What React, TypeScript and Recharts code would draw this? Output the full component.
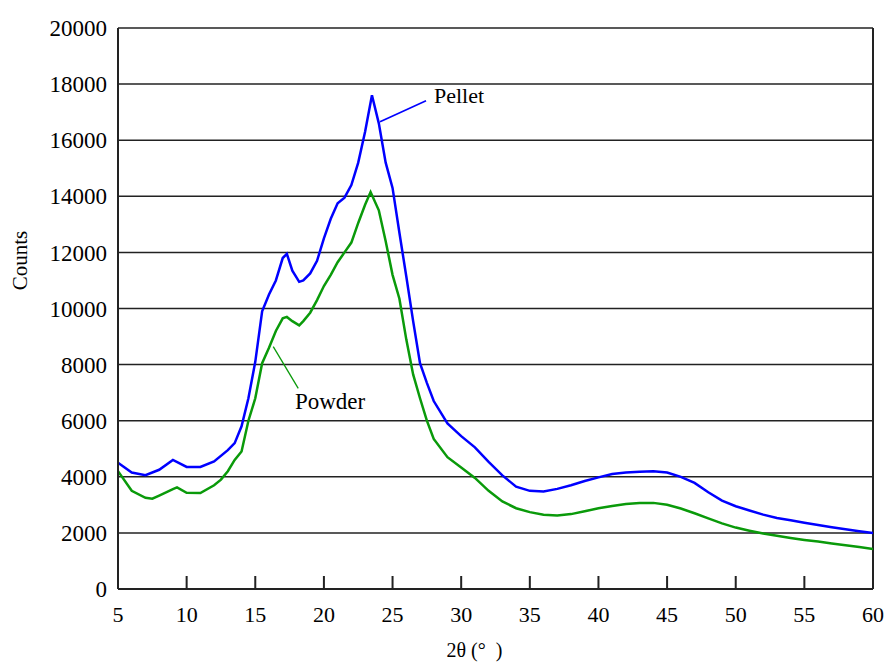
import {
  CartesianGrid,
  Line,
  LineChart,
  ReferenceDot,
  ReferenceLine,
  XAxis,
  YAxis,
} from "recharts";

// diffraction scans, 2θ in degrees vs counts
const pelletAngle = [
  5, 6, 7, 8, 9, 10, 11, 12, 13, 13.5, 14, 14.5, 15, 15.5, 16, 16.5, 17, 17.3,
  17.7, 18.2, 18.5, 19, 19.5, 20, 20.5, 21, 21.5, 22, 22.5, 23, 23.5, 24, 24.5,
  25, 25.5, 26, 26.5, 27, 27.5, 28, 29, 30, 31, 32, 33, 34, 35, 36, 37, 38, 39,
  40, 41, 42, 43, 44, 45, 46, 47, 48, 49, 50, 51, 52, 53, 54, 55, 56, 57, 58,
  59, 60,
];
const pelletCounts = [
  4500, 4150, 4060, 4250, 4600, 4350, 4350, 4550, 4950, 5200, 5800, 6800, 8100,
  9900, 10500, 11000, 11800, 11950, 11350, 10950, 11000, 11250, 11700, 12500,
  13200, 13750, 13950, 14400, 15200, 16300, 17600, 16600, 15200, 14300, 12700,
  11150, 9550, 8050, 7350, 6700, 5900, 5450, 5050, 4530, 4050, 3650, 3500,
  3480, 3570, 3700, 3850, 3980, 4100, 4150, 4180, 4200, 4150, 4000, 3780, 3450,
  3150, 2950, 2800, 2650, 2530, 2450, 2360, 2280, 2200, 2130, 2060, 2000,
];

const powderAngle = [
  5, 6, 7, 7.5, 8, 9, 9.3, 10, 11, 12, 12.5, 13, 13.5, 14, 14.5, 15, 15.5, 16,
  16.5, 17, 17.3, 17.7, 18.2, 18.5, 19, 19.5, 20, 20.5, 21, 21.5, 22, 22.5, 23,
  23.4, 24, 24.5, 25, 25.5, 26, 26.5, 27, 27.5, 28, 29, 30, 31, 32, 33, 34, 35,
  36, 37, 38, 39, 40, 41, 42, 43, 44, 45, 46, 47, 48, 49, 50, 51, 52, 53, 54,
  55, 56, 57, 58, 59, 60,
];
const powderCounts = [
  4200, 3500, 3250, 3220, 3330, 3560, 3620, 3430, 3420, 3700, 3900, 4200, 4600,
  4900, 6000, 6800, 8050, 8600, 9200, 9650, 9700, 9550, 9400, 9550, 9850,
  10300, 10800, 11200, 11650, 12000, 12350, 13050, 13700, 14150, 13500, 12400,
  11200, 10350, 8900, 7650, 6800, 6000, 5350, 4700, 4330, 3960, 3500, 3120,
  2880, 2740, 2650, 2620, 2670, 2770, 2880, 2960, 3030, 3070, 3070, 3000, 2870,
  2700, 2520, 2340, 2190, 2080, 1980, 1900, 1820, 1750, 1690, 1620, 1560, 1500,
  1430,
];

const xTicks = [5, 10, 15, 20, 25, 30, 35, 40, 45, 50, 55, 60];
const yTicks = [0, 2000, 4000, 6000, 8000, 10000, 12000, 14000, 16000, 18000, 20000];

const pelletData = pelletAngle.map((a, i) => ({ angle: a, counts: pelletCounts[i] }));
const powderData = powderAngle.map((a, i) => ({ angle: a, counts: powderCounts[i] }));

const FONT = "'Liberation Serif', 'Times New Roman', serif";
const BLUE = "#0000ff";
const GREEN = "#0a9a0a";
const INK = "#222";

// x tick: short mark pointing up into the plot, number below the axis
const XTick = ({ x, y, payload }: any) => {
  const axisY = y - 4;
  return (
    <g>
      <rect x={x - 1} y={axisY - 13} width={2} height={13} fill={INK} />
      <text
        x={x}
        y={axisY + 33}
        textAnchor="middle"
        fontFamily={FONT}
        fontSize={22}
        fill="#000"
      >
        {payload.value}
      </text>
    </g>
  );
};

const CountsLabel = ({ viewBox }: any) => {
  const x = viewBox.x - 18;
  const y = viewBox.y + viewBox.height / 2 - 48;
  return (
    <text
      x={x}
      y={y}
      transform={`rotate(-90, ${x}, ${y})`}
      textAnchor="middle"
      dominantBaseline="central"
      fontFamily={FONT}
      fontSize={21}
      fill="#000"
    >
      Counts
    </text>
  );
};

const AngleLabel = ({ viewBox }: any) => (
  <text
    x={viewBox.x + viewBox.width / 2 - 21}
    y={viewBox.y + 68}
    textAnchor="middle"
    fontFamily={FONT}
    fontSize={20}
    fill="#000"
    style={{ whiteSpace: "pre" }}
  >
    2θ (°{"\u00a0\u00a0"})
  </text>
);

export default function App() {
  return (
    <div style={{ position: "absolute", left: 0, top: 0, background: "#fff" }}>
      <LineChart
        width={887}
        height={664}
        margin={{ top: 28, right: 14, bottom: 0, left: 38 }}
      >
        <CartesianGrid vertical={false} stroke={INK} strokeWidth={1.5} />
        <XAxis
          dataKey="angle"
          type="number"
          domain={[5, 60]}
          ticks={xTicks}
          interval={0}
          allowDataOverflow
          height={75}
          tickSize={0}
          tickMargin={4}
          tickLine={false}
          axisLine={{ stroke: INK, strokeWidth: 2 }}
          tick={(props: any) => <XTick {...props} />}
          label={<AngleLabel />}
        />
        <YAxis
          dataKey="counts"
          type="number"
          domain={[0, 20000]}
          ticks={yTicks}
          width={80}
          tickSize={0}
          tickMargin={11}
          tickLine={false}
          axisLine={{ stroke: INK, strokeWidth: 2 }}
          tick={{ fontFamily: FONT, fontSize: 23, fill: "#000" }}
          label={<CountsLabel />}
        />
        <ReferenceLine x={60} stroke={INK} strokeWidth={2} />
        <Line
          data={powderData}
          dataKey="counts"
          type="linear"
          stroke={GREEN}
          strokeWidth={2.5}
          dot={false}
          isAnimationActive={false}
        />
        <Line
          data={pelletData}
          dataKey="counts"
          type="linear"
          stroke={BLUE}
          strokeWidth={2.5}
          dot={false}
          isAnimationActive={false}
        />
        <ReferenceLine
          segment={[
            { x: 24.09, y: 16660 },
            { x: 27.44, y: 17410 },
          ]}
          stroke={BLUE}
          strokeWidth={1.6}
        />
        <ReferenceLine
          segment={[
            { x: 16.31, y: 8640 },
            { x: 18.13, y: 7155 },
          ]}
          stroke={GREEN}
          strokeWidth={1.3}
        />
        <ReferenceDot
          x={28.02}
          y={17620}
          r={0}
          stroke="none"
          fill="none"
          label={{
            value: "Pellet",
            position: "right",
            offset: 0,
            fontFamily: FONT,
            fontSize: 22,
            fill: "#000",
          }}
        />
        <ReferenceDot
          x={17.89}
          y={6700}
          r={0}
          stroke="none"
          fill="none"
          label={{
            value: "Powder",
            position: "right",
            offset: 0,
            fontFamily: FONT,
            fontSize: 23,
            fill: "#000",
          }}
        />
      </LineChart>
    </div>
  );
}
